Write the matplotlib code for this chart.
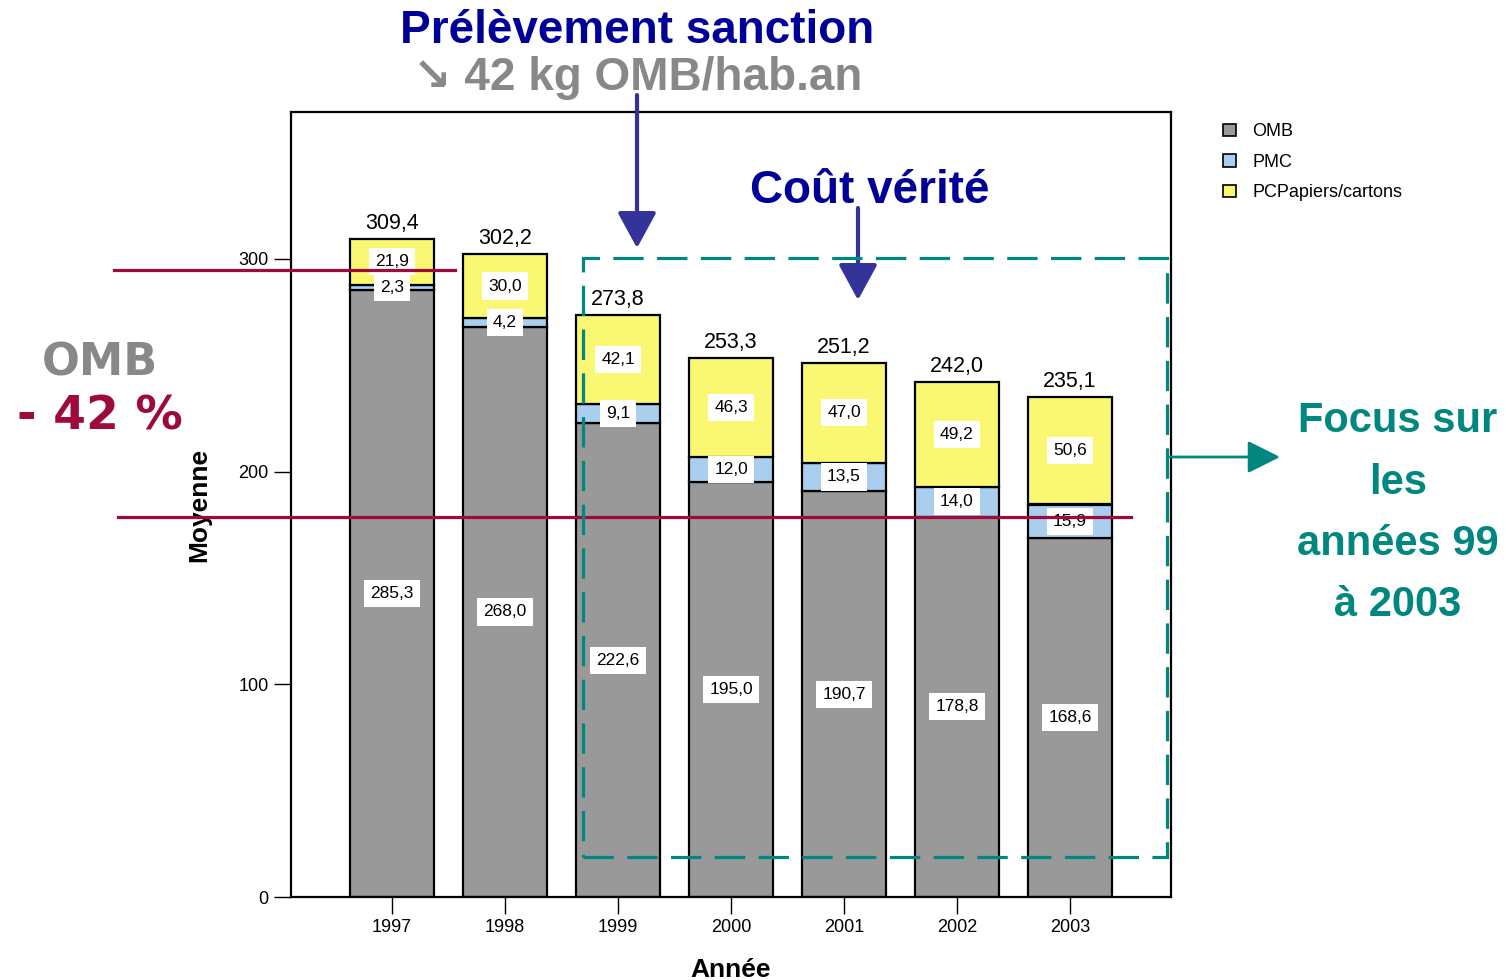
import matplotlib
matplotlib.use("Agg")
import matplotlib.pyplot as plt
import numpy as np
from matplotlib.patches import Patch, Rectangle

plt.rcParams['font.family'] = ['Liberation Sans', 'DejaVu Sans']

years = ["1997", "1998", "1999", "2000", "2001", "2002", "2003"]
omb = [285.3, 268.0, 222.6, 195.0, 190.7, 178.8, 168.6]
pmc = [2.3, 4.2, 9.1, 12.0, 13.5, 14.0, 15.9]
pcp = [21.9, 30.0, 42.1, 46.3, 47.0, 49.2, 50.6]
totals = [309.4, 302.2, 273.8, 253.3, 251.2, 242.0, 235.1]
series_names = ["OMB", "PMC", "PCPapiers/cartons"]
yticks = [0, 100, 200, 300]

c_omb = "#999999"
c_pmc = "#AACFEE"
c_pcp = "#FAF872"
navy = "#000099"
grey_txt = "#888888"
crimson = "#9E0A3E"
teal = "#00877F"

W, H = 1506, 980
fig = plt.figure(figsize=(W / 100, H / 100), dpi=100)
ax = fig.add_axes([291 / W, 1 - 897 / H, 880 / W, 785 / H])

x = np.arange(len(years))
omb_a = np.array(omb)
pmc_a = np.array(pmc)
pcp_a = np.array(pcp)
bw = 0.75
kw = dict(width=bw, edgecolor="black", linewidth=1.6, zorder=2)
ax.bar(x, omb_a, color=c_omb, **kw)
ax.bar(x, pmc_a, bottom=omb_a, color=c_pmc, **kw)
ax.bar(x, pcp_a, bottom=omb_a + pmc_a, color=c_pcp, **kw)

def fmt(v):
    return f"{v:.1f}".replace(".", ",")

box = dict(boxstyle="square,pad=0.35", facecolor="white", edgecolor="none")
for i in range(len(years)):
    ax.text(x[i], omb_a[i] / 2, fmt(omb[i]), ha="center", va="center",
            fontsize=12.5, bbox=box, zorder=4)
    ax.text(x[i], omb_a[i] + pmc_a[i] / 2, fmt(pmc[i]), ha="center", va="center",
            fontsize=12.5, bbox=box, zorder=4)
    ax.text(x[i], omb_a[i] + pmc_a[i] + pcp_a[i] / 2, fmt(pcp[i]), ha="center",
            va="center", fontsize=12.5, bbox=box, zorder=4)
    top = omb_a[i] + pmc_a[i] + pcp_a[i]
    ax.annotate(fmt(totals[i]), (x[i], top), xytext=(0, 3.5), textcoords="offset points",
                ha="center", va="bottom", fontsize=15.5, zorder=4)

ax.set_xlim(-0.894, len(years) - 1 + 0.894)
ax.set_ylim(0, 369)
ax.set_xticks(x)
ax.set_xticklabels(years)
ax.set_yticks(yticks)
ax.set_yticklabels([str(t) for t in yticks])
ax.tick_params(axis="both", direction="out", length=12, width=1.0, labelsize=13, pad=4)
for s in ax.spines.values():
    s.set_linewidth(1.6)

ax.set_ylabel("Moyenne", fontsize=19, fontweight="bold")
ax.yaxis.set_label_coords(-0.091, 0.5)
ax.set_xlabel("Année", fontsize=19, fontweight="bold")
ax.xaxis.set_label_coords(0.5, -0.078)

# Legend
handles = [Patch(facecolor=c, edgecolor="black", linewidth=1.2) for c in (c_omb, c_pmc, c_pcp)]
fig.legend(handles, series_names, loc="upper left", bbox_to_anchor=(1216 / W, 1 - 116 / H),
           frameon=False, fontsize=13, handlelength=0.7, handleheight=0.7,
           handletextpad=0.9, labelspacing=0.75, borderaxespad=0)

def fp(px, py):
    return (px / W, 1 - py / H)

# Red reference lines
for (x0, x1, yy) in [(114, 455, 270), (118, 1131, 517)]:
    fig.add_artist(plt.Line2D([x0 / W, x1 / W], [1 - yy / H, 1 - yy / H],
                              color=crimson, lw=2.3, zorder=5))

# Teal dashed rectangle
rect = Rectangle(fp(583, 857), (1167 - 583) / W, (857 - 258) / H, transform=fig.transFigure,
                 fill=False, edgecolor=teal, lw=2.3, linestyle=(0, (9.5, 4.2)), zorder=5)
fig.add_artist(rect)

# Teal arrow
ax.annotate("", xy=(1280, H - 457), xytext=(1170, H - 457), xycoords="figure pixels",
            textcoords="figure pixels",
            arrowprops=dict(arrowstyle="-|>,head_length=2.0,head_width=1.0", color=teal, lw=2,
                            shrinkA=0, shrinkB=0), annotation_clip=False)

# Navy arrows
for (ax_x, y0, y1) in [(637, 95, 248), (858, 208, 300)]:
    ax.annotate("", xy=(ax_x, H - y1), xytext=(ax_x, H - y0), xycoords="figure pixels",
                textcoords="figure pixels",
                arrowprops=dict(arrowstyle="-|>,head_length=2.2,head_width=1.2", color="#333399",
                                lw=3, shrinkA=0, shrinkB=0), annotation_clip=False)

# Texts
fig.text(*fp(637, 43), "Prélèvement sanction", ha="center", va="baseline", fontsize=33,
         fontweight="bold", color=navy)
fig.text(*fp(638, 90), "↘ 42 kg OMB/hab.an", ha="center", va="baseline", fontsize=33,
         fontweight="bold", color=grey_txt)
fig.text(*fp(870, 203), "Coût vérité", ha="center", va="baseline", fontsize=33,
         fontweight="bold", color=navy)
fig.text(*fp(100, 376), "OMB", ha="center", va="baseline", fontsize=32,
         fontweight="bold", color=grey_txt, family="DejaVu Sans")
fig.text(*fp(100, 429), "- 42 %", ha="center", va="baseline", fontsize=34,
         fontweight="bold", color=crimson, family="DejaVu Sans")
for txt, yb in [("Focus sur", 432), ("les", 494), ("années 99", 555), ("à 2003", 616)]:
    fig.text(*fp(1398, yb), txt, ha="center", va="baseline", fontsize=30,
             fontweight="bold", color=teal)

fig.savefig("out.png", dpi=100)
